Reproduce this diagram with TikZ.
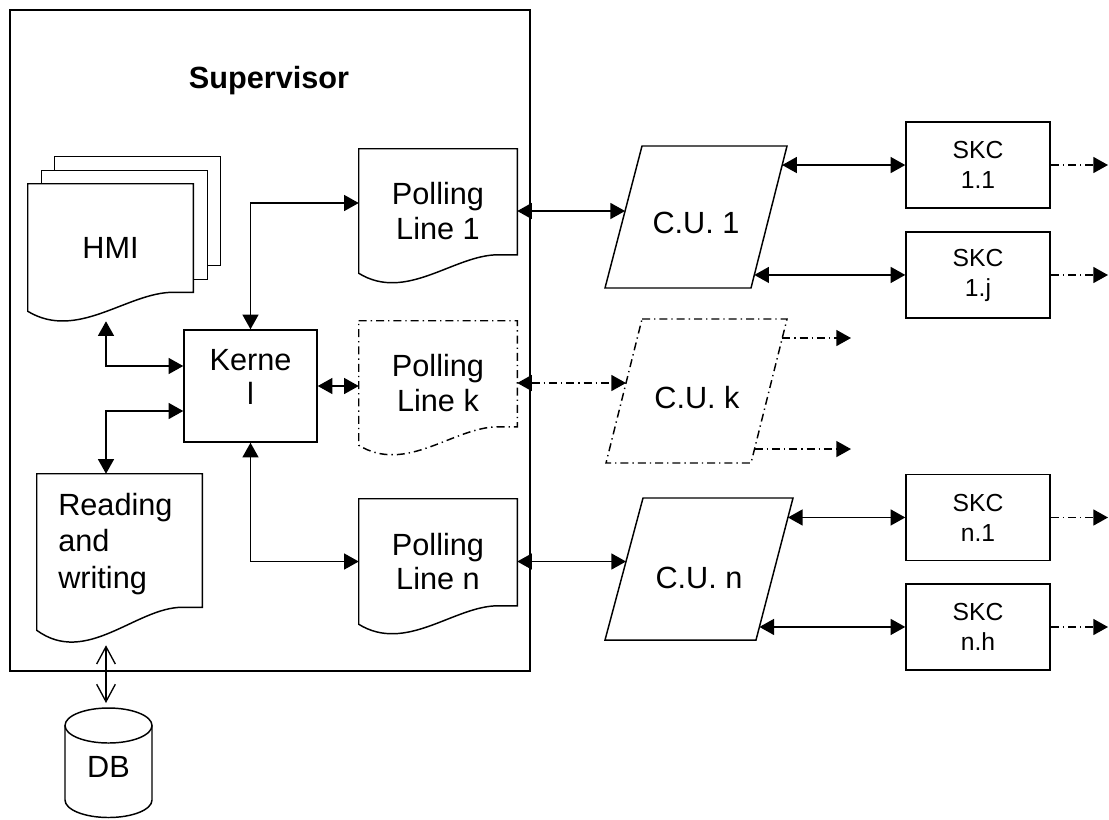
\documentclass[tikz,border=0pt]{standalone}
\usepackage{fontspec}
\setmainfont{Liberation Sans}
\usetikzlibrary{arrows.meta,calc}
% document shape outline: node name, wave drop (px), draw options
\newcommand\mydoc[3]{%
  \draw[#3] (#1.north west) -- (#1.north east) -- ($(#1.south east)+(0,-#2)$)
    -- ($(#1.south west)!0.88!(#1.south east)+(0,-#2)$)
    .. controls ($(#1.south west)!0.6!(#1.south east)+(0,-#2)$)
    and ($(#1.south west)!0.3!(#1.south east)+(0,1.58*#2)$) .. (#1.south west) -- cycle;}
\begin{document}
\begin{tikzpicture}[x=0.75pt,y=-0.75pt,
  every node/.style={inner sep=0pt},
  big/.style={font=\fontsize{23}{26}\selectfont, align=center},
  small/.style={font=\fontsize{18.5}{22.5}\selectfont, align=center},
  frame/.style={draw=none},
  sbox/.style={draw, line width=1.1pt},
  bi/.style={{Triangle[length=11pt,width=12pt]}-{Triangle[length=11pt,width=12pt]}, line width=1.1pt},
  one/.style={-{Triangle[length=11pt,width=12pt]}, line width=1.1pt},
  dd/.style={dash pattern=on 6pt off 3pt on 1pt off 3pt},
  dbarrow/.style={{Straight Barb[length=13pt,width=14pt]}-{Straight Barb[length=13pt,width=14pt]}, line width=1pt}
]
\useasboundingbox (0,0) rectangle (1109,819);

% Supervisor frame
\node[draw, line width=1.6pt, minimum width=390pt, minimum height=495.75pt] (sup) at (270,340.5) {};
\node[font=\bfseries\fontsize{23}{26}\selectfont] (title) at (269,81) {Supervisor};

% HMI (stacked documents)
\node[big, frame, minimum width=123.75pt, minimum height=95.25pt] (hmi) at (110.5,247.5) {HMI};
\mydoc{hmi}{19}{line width=1.1pt}
\draw[line width=1.1pt] ($(hmi.north west)+(14,0)$) -- ($(hmi.north west)+(14,-13)$) -- ($(hmi.north east)+(14,-13)$) -- ($(hmi.south east)+(14,-32)$) -- ($(hmi.south east)+(0,-32)$);
\draw[line width=1.1pt] ($(hmi.north west)+(27,-13)$) -- ($(hmi.north west)+(27,-27)$) -- ($(hmi.north east)+(27,-27)$) -- ($(hmi.south east)+(27,-46)$) -- ($(hmi.south east)+(14,-46)$);

% Kernel
\node[sbox, minimum width=99.75pt, minimum height=84pt] (kern) at (250.5,386) {};
\node[big] (kernt) at (250.5,377) {Kerne\\l};

% Polling lines
\node[big, frame, minimum width=118.5pt, minimum height=93pt] (pl1) at (438,211) {Polling\\Line 1};
\mydoc{pl1}{18.5}{line width=1.1pt}
\node[big, frame, minimum width=118.5pt, minimum height=93pt] (plk) at (438,383) {Polling\\Line k};
\mydoc{plk}{18.5}{line width=1.1pt, dd}
\node[big, frame, minimum width=118.5pt, minimum height=93.75pt] (pln) at (438,561.5) {Polling\\Line n};
\mydoc{pln}{18.5}{line width=1.1pt}

% Reading and writing
\node[frame, minimum width=123.75pt, minimum height=117pt] (rw) at (119.5,552) {};
\mydoc{rw}{23}{line width=1.1pt}
\node[big, align=left, anchor=west, font=\fontsize{23}{27.5}\selectfont] (rwt) at (58,544) {Reading\\and\\writing};

% DB cylinder
\draw[line width=1.1pt] (108.5,725.5) ellipse [x radius=43.5, y radius=17.5];
\draw[line width=1.1pt] (65,725.5) -- (65,800) arc[start angle=180, end angle=0, x radius=43.5, y radius=17.5] -- (152,725.5);
\node[big] (dbt) at (108.5,767) {DB};
\coordinate (dbtop) at (106,703);

% Control units (parallelograms)
\coordinate (c1a) at (642,146); \coordinate (c1b) at (787,146);
\coordinate (c1c) at (751,288); \coordinate (c1d) at (605,288);
\draw[line width=1.1pt] (c1a) -- (c1b) -- (c1c) -- (c1d) -- cycle;
\node[big] (cu1t) at (696,223) {C.U. 1};

\coordinate (cka) at (642,319); \coordinate (ckb) at (787,319);
\coordinate (ckc) at (751,463); \coordinate (ckd) at (606,463);
\draw[line width=1.1pt, dd] (cka) -- (ckb) -- (ckc) -- (ckd) -- cycle;
\node[big] (cukt) at (697,398) {C.U. k};

\coordinate (cna) at (643,498); \coordinate (cnb) at (793,498);
\coordinate (cnc) at (756,640); \coordinate (cnd) at (605,640);
\draw[line width=1.1pt] (cna) -- (cnb) -- (cnc) -- (cnd) -- cycle;
\node[big] (cunt) at (699,578) {C.U. n};

% points on the parallelogram edges
\coordinate (cu1in) at ($(c1a)!0.4577!(c1d)$);
\coordinate (cu1o1) at ($(c1b)!0.134!(c1c)$);
\coordinate (cu1o2) at ($(c1b)!0.908!(c1c)$);
\coordinate (cukin) at ($(cka)!0.444!(ckd)$);
\coordinate (cuko1) at ($(ckb)!0.132!(ckc)$);
\coordinate (cuko2) at ($(ckb)!0.903!(ckc)$);
\coordinate (cunin) at ($(cna)!0.447!(cnd)$);
\coordinate (cuno1) at ($(cnb)!0.137!(cnc)$);
\coordinate (cuno2) at ($(cnb)!0.908!(cnc)$);
\coordinate (kend) at (851,0);
\coordinate (rend) at (1108,0);

% SKC boxes
\node[sbox, small, minimum width=108pt, minimum height=64.5pt] (skc11) at (978,165) {SKC\\1.1};
\node[sbox, small, minimum width=108pt, minimum height=64.5pt] (skc1j) at (978,275) {SKC\\1.j};
\node[sbox, small, minimum width=108pt, minimum height=64.5pt] (skcn1) at (978,517.5) {SKC\\n.1};
\node[sbox, small, minimum width=108pt, minimum height=64.5pt] (skcnh) at (978,627) {SKC\\n.h};

% connectors inside supervisor
\draw[bi] (kern.north) |- ([yshift=6pt]pl1.west);
\draw[bi] (kern.east) -- (kern.east -| plk.west);
\draw[bi] (kern.south) |- (pln.west);
\draw[bi] ([yshift=15pt]kern.west) -| ($(hmi.south)+(-4.5,10)$);
\draw[bi] ([yshift=-18.75pt]kern.west) -| ($(rw.north)+(-13.5,0)$);
\draw[dbarrow] ($(rw.south)+(-13.5,15)$) -- (dbtop);

% polling lines to control units
\draw[bi] (pl1.east) -- (pl1.east -| cu1in);
\draw[bi, dd] (plk.east) -- (plk.east -| cukin);
\draw[bi] (pln.east) -- (pln.east -| cunin);

% control units to SKCs
\draw[bi] (cu1o1) -- (cu1o1 -| skc11.west);
\draw[bi] (cu1o2) -- (cu1o2 -| skc1j.west);
\draw[bi] (cuno1) -- (cuno1 -| skcn1.west);
\draw[bi] (cuno2) -- (cuno2 -| skcnh.west);
\draw[one, dd] (cuko1) -- (cuko1 -| kend);
\draw[one, dd] (cuko2) -- (cuko2 -| kend);

% SKC outgoing
\draw[one, dd] (skc11.east) -- (skc11.east -| rend);
\draw[one, dd] (skc1j.east) -- (skc1j.east -| rend);
\draw[one, dd] (skcn1.east) -- (skcn1.east -| rend);
\draw[one, dd] (skcnh.east) -- (skcnh.east -| rend);
\end{tikzpicture}
\end{document}
